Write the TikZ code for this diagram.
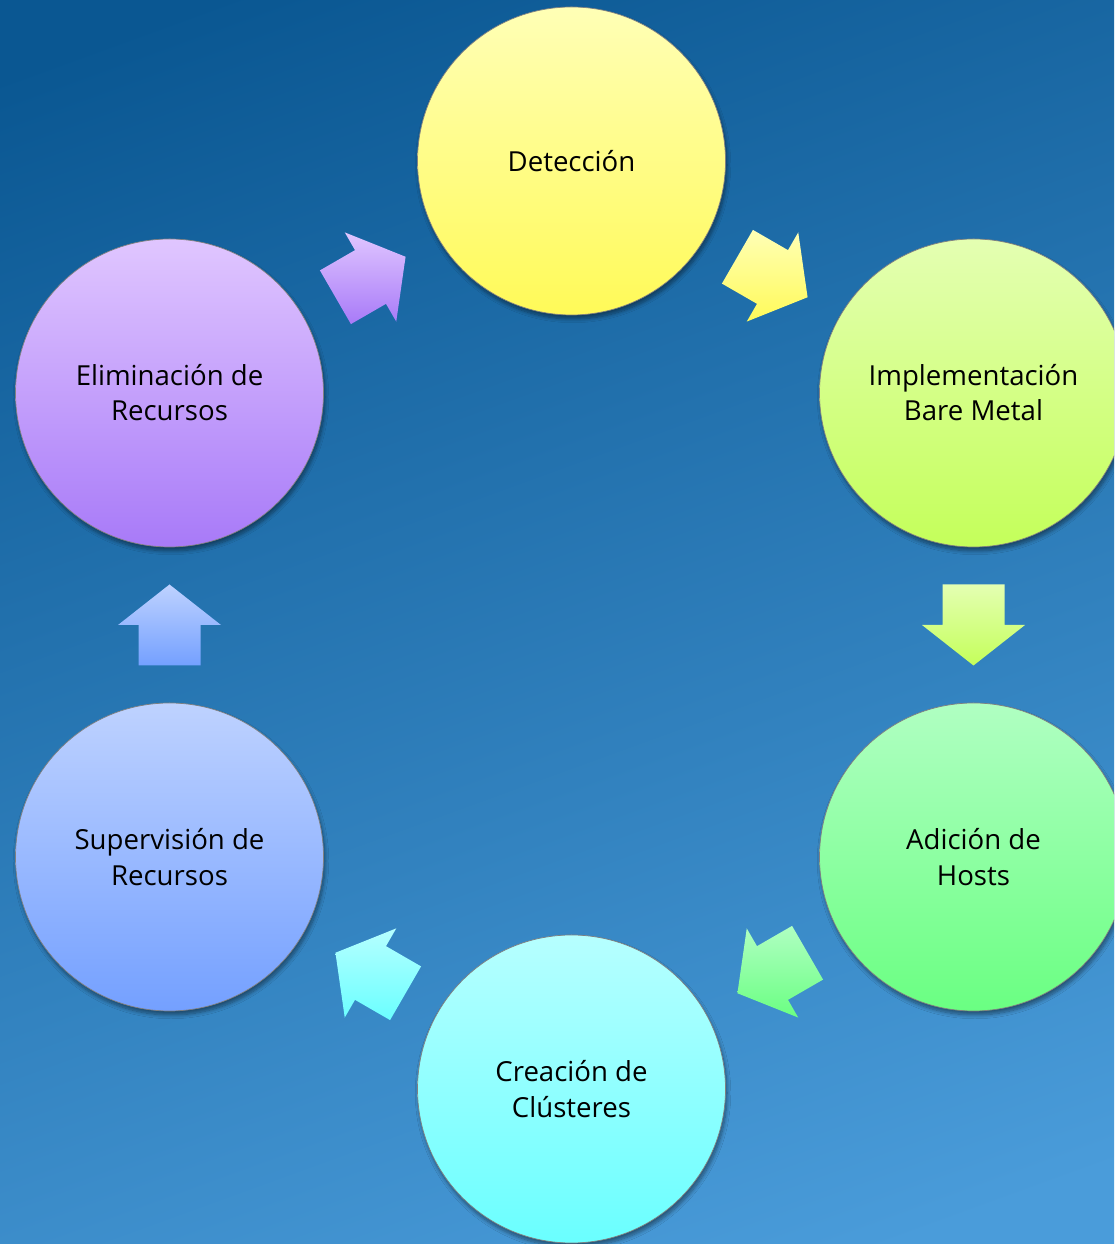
\documentclass[tikz,border=0pt]{standalone}
\usepackage{fontspec}
\setmainfont{Open Sans}
\usetikzlibrary{positioning, calc, shadows.blur}
\definecolor{bgtop}{HTML}{0A5792}
\definecolor{bgbot}{HTML}{4A9CDA}
\definecolor{ytop}{HTML}{FFFFB6}
\definecolor{ybot}{HTML}{FFFA58}
\definecolor{ltop}{HTML}{E4FFB2}
\definecolor{lbot}{HTML}{C4FF5A}
\definecolor{gtop}{HTML}{B0FFC2}
\definecolor{gbot}{HTML}{6AFF82}
\definecolor{ctop}{HTML}{B6FFFF}
\definecolor{cbot}{HTML}{6AFFFF}
\definecolor{btop}{HTML}{BED2FF}
\definecolor{bbot}{HTML}{74A0FF}
\definecolor{ptop}{HTML}{E0C6FF}
\definecolor{pbot}{HTML}{A87AF8}
\tikzset{
	stage/.style={circle, minimum size=6.16cm, inner sep=0pt, draw=black!50, thin, align=center, text=black,
		font=\fontsize{15.7}{20}\selectfont,
		blur shadow={shadow xshift=0.03cm, shadow yshift=-0.08cm, shadow blur steps=8, shadow opacity=45}},
	blockarrow/.pic={
		\path[pic actions] (-0.81,0.62) -- (0,0.62) -- (0,1.03) -- (0.81,0) -- (0,-1.03) -- (0,-0.62) -- (-0.81,-0.62) -- cycle;
	},
	flow/.style={blur shadow={shadow xshift=0.03cm, shadow yshift=-0.08cm, shadow blur steps=6, shadow opacity=40}},
}

\begin{document}
\begin{tikzpicture}
	\path[use as bounding box, clip] (0,0) rectangle (22.28,24.88);
	\shade[top color=bgtop, bottom color=bgbot, shading angle=20] (-2,-2) rectangle (24.28,26.88);

	\node[stage, top color=ytop, bottom color=ybot] (det) at (11.43,21.66) {Detección};
	\node[stage, top color=ltop, bottom color=lbot] (impl) at (19.47,17.02) {Implementación\\Bare Metal};
	\node[stage, top color=gtop, bottom color=gbot] (hosts) at (19.47,7.74) {Adición de\\Hosts};
	\node[stage, top color=ctop, bottom color=cbot] (clus) at (11.43,3.10) {Creación de\\Clústeres};
	\node[stage, top color=btop, bottom color=bbot] (sup) at (3.39,7.74) {Supervisión de\\Recursos};
	\node[stage, top color=ptop, bottom color=pbot] (elim) at (3.39,17.02) {Eliminación de\\Recursos};

	\pic[flow, rotate=-30, top color=ytop, bottom color=ybot] at ($(det)!0.5!(impl)$) {blockarrow};
	\pic[flow, rotate=-90, top color=ltop, bottom color=lbot] at ($(impl)!0.5!(hosts)$) {blockarrow};
	\pic[flow, rotate=210, top color=gtop, bottom color=gbot] at ($(hosts)!0.5!(clus)$) {blockarrow};
	\pic[flow, rotate=150, top color=ctop, bottom color=cbot] at ($(clus)!0.5!(sup)$) {blockarrow};
	\pic[flow, rotate=90, top color=btop, bottom color=bbot] at ($(sup)!0.5!(elim)$) {blockarrow};
	\pic[flow, rotate=30, top color=ptop, bottom color=pbot] at ($(elim)!0.5!(det)$) {blockarrow};
\end{tikzpicture}
\end{document}
